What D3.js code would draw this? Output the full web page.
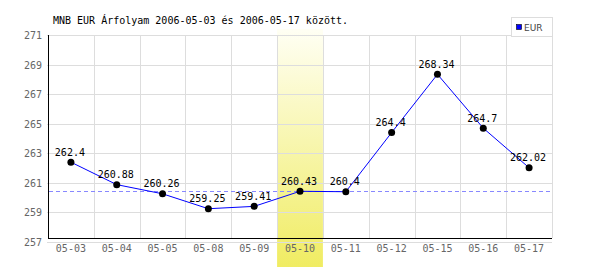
<!DOCTYPE html>
<html><head><meta charset="utf-8">
<script src="https://cdn.jsdelivr.net/npm/d3@7"></script>
<style>body{margin:0;background:#fff}svg{display:block}</style>
</head><body>
<svg id="c" width="600" height="270"></svg>
<script>
const categories = ["05-03","05-04","05-05","05-08","05-09","05-10","05-11","05-12","05-15","05-16","05-17"];
const values = [262.4,260.88,260.26,259.25,259.41,260.43,260.4,264.4,268.34,264.7,262.02];
const labels = ["262.4","260.88","260.26","259.25","259.41","260.43","260.4","264.4","268.34","264.7","262.02"];
const yTicks = [257,259,261,263,265,267,269,271];
const highlightCat = "05-10";
const refValue = 260.43;
const title = "MNB EUR Árfolyam 2006-05-03 és 2006-05-17 között.";
const seriesName = "EUR";

const svg = d3.select("#c");
const L = 48, R = 552, T = 35, B = 238;
const x = d3.scaleBand().domain(categories).range([L, R]);
const y = d3.scaleLinear().domain([257, 271]).range([242, T]);
const mono = "'DejaVu Sans Mono', monospace";

const defs = svg.append("defs");
const g = defs.append("linearGradient").attr("id","hl").attr("x1",0).attr("y1",0).attr("x2",0).attr("y2",1);
g.append("stop").attr("offset","0%").attr("stop-color","#fffff4");
g.append("stop").attr("offset","100%").attr("stop-color","#f0ec62");

// highlight band
svg.append("rect").attr("x", x(highlightCat)).attr("y", 29)
  .attr("width", x.bandwidth()).attr("height", 267 - 29).attr("fill", "url(#hl)");

// horizontal gridlines
svg.append("g").selectAll("line").data(yTicks).join("line")
  .attr("x1", L - 1).attr("x2", R)
  .attr("y1", d => Math.round(y(d)) + 0.5).attr("y2", d => Math.round(y(d)) + 0.5)
  .attr("stroke", "#dddddd").attr("stroke-width", 1);

// vertical gridlines at band edges
const edges = categories.map(c => x(c) + x.bandwidth()).concat([]);
svg.append("g").selectAll("line").data(edges).join("line")
  .attr("x1", d => Math.round(d) + 0.5).attr("x2", d => Math.round(d) + 0.5)
  .attr("y1", T).attr("y2", B)
  .attr("stroke", "#dddddd").attr("stroke-width", 1);

// axes lines
svg.append("line").attr("x1", L + 0.5).attr("x2", L + 0.5).attr("y1", T).attr("y2", B + 1)
  .attr("stroke", "#000");
svg.append("line").attr("x1", L).attr("x2", R).attr("y1", B + 0.5).attr("y2", B + 0.5)
  .attr("stroke", "#000");

// reference dashed line
svg.append("line").attr("x1", L + 1).attr("x2", R)
  .attr("y1", Math.round(y(refValue)) + 0.5).attr("y2", Math.round(y(refValue)) + 0.5)
  .attr("stroke", "#8888ff").attr("stroke-dasharray", "4,3");

// y labels
svg.append("g").selectAll("text").data(yTicks).join("text")
  .attr("x", 42).attr("y", d => y(d) + 4).attr("text-anchor", "end")
  .attr("font-family", mono).attr("font-size", 10).attr("fill", "#666")
  .text(d => d);

// x labels
svg.append("g").selectAll("text").data(categories).join("text")
  .attr("x", d => x(d) + x.bandwidth() / 2).attr("y", 252).attr("text-anchor", "middle")
  .attr("font-family", mono).attr("font-size", 10).attr("fill", "#666")
  .text(d => d);

// line
const line = d3.line().x((d, i) => x(categories[i]) + x.bandwidth() / 2).y(d => y(d));
svg.append("path").datum(values).attr("d", line).attr("fill", "none")
  .attr("stroke", "#0000ff").attr("stroke-width", 1);

// points
svg.append("g").selectAll("circle").data(values).join("circle")
  .attr("cx", (d, i) => x(categories[i]) + x.bandwidth() / 2).attr("cy", d => y(d))
  .attr("r", 3.5).attr("fill", "#000");

// data labels
svg.append("g").selectAll("text").data(values).join("text")
  .attr("x", (d, i) => x(categories[i]) + x.bandwidth() / 2 - 1).attr("y", d => y(d) - 6.5)
  .attr("text-anchor", "middle").attr("font-family", mono).attr("font-size", 10).attr("fill", "#000")
  .text((d, i) => labels[i]);

// title
svg.append("text").attr("x", 53).attr("y", 24).attr("font-family", mono).attr("font-size", 10)
  .attr("fill", "#000").text(title);

// legend
svg.append("rect").attr("x", 511.5).attr("y", 17.5).attr("width", 41).attr("height", 19)
  .attr("fill", "#fff").attr("stroke", "#dddddd");
svg.append("rect").attr("x", 516.5).attr("y", 24.5).attr("width", 5).attr("height", 5)
  .attr("fill", "#0000ff").attr("stroke", "#000").attr("stroke-width", 0.6);
svg.append("text").attr("x", 524).attr("y", 31).attr("font-family", "'DejaVu Sans', sans-serif")
  .attr("font-size", 9).attr("fill", "#444").text(seriesName);
</script>
</body></html>
